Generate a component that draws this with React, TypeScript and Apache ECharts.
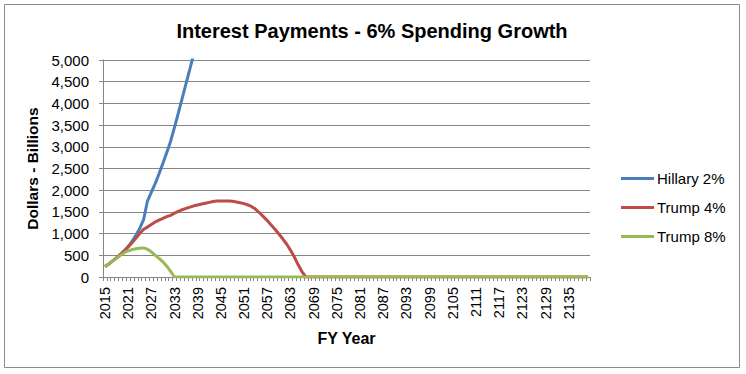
import React, { useEffect, useRef } from "react";
import * as echarts from "echarts";

const years: string[] = [];
for (let y = 2015; y <= 2140; y++) years.push(String(y));

const hillary2: (number | null)[] = [
  240, 300, 370, 440, 520, 600, 700, 820, 960, 1120,
  1320, 1750, 1950, 2150, 2380, 2620, 2870, 3130, 3450, 3780,
  4120, 4460, 4800, 5150, 5500,
];

const trump4: number[] = [
  240, 300, 370, 440, 520, 600, 690, 790, 890, 1000,
  1100, 1150, 1210, 1270, 1310, 1350, 1390, 1420, 1470, 1510,
  1550, 1580, 1610, 1640, 1660, 1680, 1700, 1720, 1740, 1750,
  1750, 1750, 1750, 1745, 1730, 1710, 1690, 1660, 1620, 1560,
  1480, 1390, 1300, 1200, 1100, 990, 880, 760, 620, 460,
  280, 120, 0,
];

const trump8: number[] = [
  240, 300, 370, 430, 500, 560, 600, 630, 650, 665,
  670, 640, 580, 500, 430, 350, 250, 130, 0,
];

const pad = (arr: (number | null)[], fill: number | null) =>
  years.map((_, i) => (i < arr.length ? arr[i] : fill));

export default function App() {
  const ref = useRef<HTMLDivElement>(null);
  useEffect(() => {
    if (!ref.current) return;
    const chart = echarts.init(ref.current, null, { renderer: "svg" });
    const font = "'Liberation Sans', Arial, sans-serif";
    chart.setOption({
      animation: false,
      backgroundColor: "#ffffff",
      title: {
        text: "Interest Payments - 6% Spending Growth",
        left: 367,
        textAlign: "center",
        top: 16,
        textStyle: {
          fontFamily: "'Liberation Sans Narrow', 'Liberation Sans', Arial, sans-serif",
          fontSize: 20,
          fontWeight: "bold",
          color: "#000",
        },
      },
      graphic: [
        {
          type: "rect",
          shape: { x: 4.5, y: 4.5, width: 735, height: 363 },
          style: { fill: "none", stroke: "#8c8c8c", lineWidth: 1 },
          silent: true,
        },
      ],
      legend: {
        orient: "vertical",
        left: 616,
        top: 166,
        itemWidth: 33,
        itemHeight: 3,
        itemGap: 14,
        icon: "rect",
        textStyle: { fontFamily: font, fontSize: 15, color: "#000", padding: [0, 0, 0, -2] },
        data: ["Hillary 2%", "Trump 4%", "Trump 8%"],
      },
      grid: { left: 103, right: 156, top: 60, bottom: 97, containLabel: false },
      xAxis: {
        type: "category",
        data: years,
        boundaryGap: true,
        name: "FY Year",
        nameLocation: "middle",
        nameGap: 53,
        nameTextStyle: { fontFamily: font, fontSize: 16, fontWeight: "bold", color: "#000" },
        axisLine: { lineStyle: { color: "#868686", width: 1 } },
        axisTick: { show: true, interval: 0, length: 4, lineStyle: { color: "#868686" } },
        axisLabel: {
          interval: 5,
          rotate: 90,
          fontFamily: font,
          fontSize: 14.5,
          color: "#000",
          margin: 10,
        },
        splitLine: { show: false },
      },
      yAxis: {
        type: "value",
        min: 0,
        max: 5000,
        interval: 500,
        name: "Dollars - Billions",
        nameLocation: "middle",
        nameGap: 56,
        nameTextStyle: { fontFamily: font, fontSize: 15.5, fontWeight: "bold", color: "#000" },
        axisLine: { show: true, lineStyle: { color: "#868686" } },
        axisTick: { show: true, length: 4, lineStyle: { color: "#868686" } },
        axisLabel: {
          fontFamily: font,
          fontSize: 15,
          color: "#000",
          margin: 14,
          formatter: (v: number) => v.toLocaleString("en-US"),
        },
        splitLine: { show: true, lineStyle: { color: "#868686", width: 1 } },
      },
      series: [
        {
          name: "Hillary 2%",
          type: "line",
          data: pad(hillary2, null),
          showSymbol: false,
          symbol: "none",
          clip: true,
          lineStyle: { color: "#4A7EBB", width: 3 },
          itemStyle: { color: "#4A7EBB" },
        },
        {
          name: "Trump 4%",
          type: "line",
          data: pad(trump4, 0),
          showSymbol: false,
          symbol: "none",
          lineStyle: { color: "#BE4B48", width: 3 },
          itemStyle: { color: "#BE4B48" },
        },
        {
          name: "Trump 8%",
          type: "line",
          data: pad(trump8, 0),
          showSymbol: false,
          symbol: "none",
          lineStyle: { color: "#98B954", width: 3 },
          itemStyle: { color: "#98B954" },
        },
      ],
    });
    return () => chart.dispose();
  }, []);
  return (
    <div
      ref={ref}
      style={{ position: "fixed", left: 0, top: 0, width: 746, height: 374 }}
    />
  );
}
